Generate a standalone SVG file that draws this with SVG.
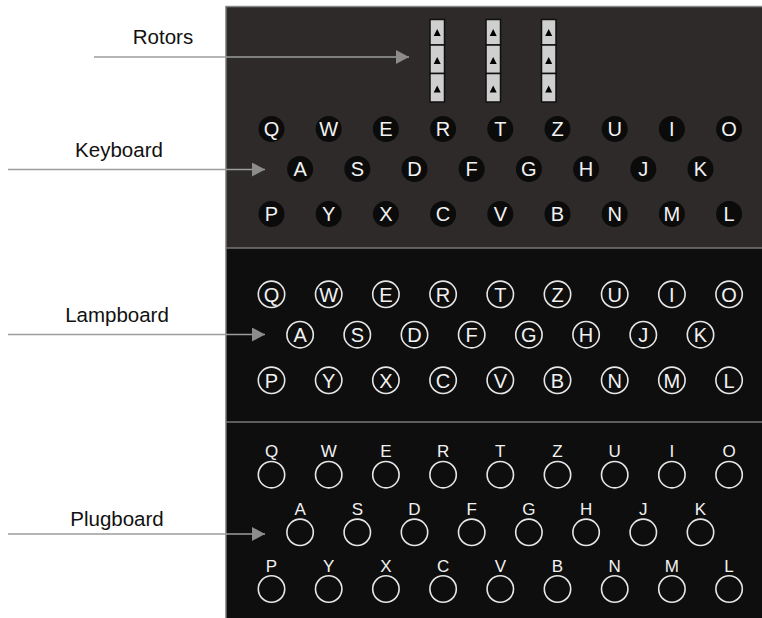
<svg xmlns="http://www.w3.org/2000/svg" width="762" height="618" viewBox="0 0 762 618">
<style>
.lbl{font-family:"Liberation Sans",Arial,sans-serif;font-size:20.5px;fill:#111;text-anchor:middle}
.kc{fill:#0b0b0b}
.lc{fill:none;stroke:#e6e6e6;stroke-width:1.6}
.kt{font-family:"Liberation Sans",Arial,sans-serif;font-size:20px;fill:#f2f2f2;text-anchor:middle}
.pt{font-family:"Liberation Sans",Arial,sans-serif;font-size:17px;fill:#f2f2f2;text-anchor:middle}
.cell{fill:#cfcfcf;stroke:#111;stroke-width:1.5}
.tri{fill:#000}
.conn{stroke:#9c9c9c;stroke-width:1.6;fill:none}
</style>
<defs>
<marker id="ah" markerUnits="userSpaceOnUse" markerWidth="13" markerHeight="14" refX="13" refY="7" orient="auto">
<path d="M0,0 L13,7 L0,14 z" fill="#8c8c8c"/>
</marker>
</defs>
<rect width="762" height="618" fill="#fff"/>
<g id="panel">
<rect x="226" y="6" width="536" height="242" fill="#2d2a29"/>
<rect x="226" y="248" width="536" height="174" fill="#0e0e0e"/>
<rect x="226" y="422" width="536" height="196" fill="#0e0e0e"/>
<line x1="226" y1="6.5" x2="762" y2="6.5" stroke="#8a8a8a" stroke-width="1.5"/>
<line x1="226" y1="6" x2="226" y2="618" stroke="#777" stroke-width="1.5"/>
<line x1="226" y1="248" x2="762" y2="248" stroke="#777" stroke-width="1.5"/>
<line x1="226" y1="422" x2="762" y2="422" stroke="#777" stroke-width="1.5"/>
</g>
<g id="labels">
<text class="lbl" x="163" y="44">Rotors</text>
<text class="lbl" x="119" y="156.5">Keyboard</text>
<text class="lbl" x="117" y="321.5">Lampboard</text>
<text class="lbl" x="117" y="526">Plugboard</text>
</g>
<g id="rotors">
<g id="rotor1">
<rect class="cell" x="430" y="19.5" width="14.5" height="25.5"/><rect class="cell" x="430" y="45" width="14.5" height="28.5"/><rect class="cell" x="430" y="73.5" width="14.5" height="28.5"/>
<polygon class="tri" points="433.7,36 440.7,36 437.2,29"/><polygon class="tri" points="433.7,64 440.7,64 437.2,57"/><polygon class="tri" points="433.7,92.5 440.7,92.5 437.2,85.5"/>
</g>
<g id="rotor2">
<rect class="cell" x="486" y="19.5" width="14.5" height="25.5"/><rect class="cell" x="486" y="45" width="14.5" height="28.5"/><rect class="cell" x="486" y="73.5" width="14.5" height="28.5"/>
<polygon class="tri" points="489.7,36 496.7,36 493.2,29"/><polygon class="tri" points="489.7,64 496.7,64 493.2,57"/><polygon class="tri" points="489.7,92.5 496.7,92.5 493.2,85.5"/>
</g>
<g id="rotor3">
<rect class="cell" x="541.5" y="19.5" width="14.5" height="25.5"/><rect class="cell" x="541.5" y="45" width="14.5" height="28.5"/><rect class="cell" x="541.5" y="73.5" width="14.5" height="28.5"/>
<polygon class="tri" points="545.2,36 552.2,36 548.7,29"/><polygon class="tri" points="545.2,64 552.2,64 548.7,57"/><polygon class="tri" points="545.2,92.5 552.2,92.5 548.7,85.5"/>
</g>
</g>
<g id="keyboard">
<g id="k-Q"><circle class="kc" cx="271.5" cy="129" r="13"/><text class="kt" x="271.5" y="136.2">Q</text></g>
<g id="k-W"><circle class="kc" cx="328.7" cy="129" r="13"/><text class="kt" x="328.7" y="136.2">W</text></g>
<g id="k-E"><circle class="kc" cx="385.9" cy="129" r="13"/><text class="kt" x="385.9" y="136.2">E</text></g>
<g id="k-R"><circle class="kc" cx="443.1" cy="129" r="13"/><text class="kt" x="443.1" y="136.2">R</text></g>
<g id="k-T"><circle class="kc" cx="500.3" cy="129" r="13"/><text class="kt" x="500.3" y="136.2">T</text></g>
<g id="k-Z"><circle class="kc" cx="557.5" cy="129" r="13"/><text class="kt" x="557.5" y="136.2">Z</text></g>
<g id="k-U"><circle class="kc" cx="614.7" cy="129" r="13"/><text class="kt" x="614.7" y="136.2">U</text></g>
<g id="k-I"><circle class="kc" cx="671.9" cy="129" r="13"/><text class="kt" x="671.9" y="136.2">I</text></g>
<g id="k-O"><circle class="kc" cx="729.1" cy="129" r="13"/><text class="kt" x="729.1" y="136.2">O</text></g>
<g id="k-A"><circle class="kc" cx="300.1" cy="169" r="13"/><text class="kt" x="300.1" y="176.2">A</text></g>
<g id="k-S"><circle class="kc" cx="357.3" cy="169" r="13"/><text class="kt" x="357.3" y="176.2">S</text></g>
<g id="k-D"><circle class="kc" cx="414.5" cy="169" r="13"/><text class="kt" x="414.5" y="176.2">D</text></g>
<g id="k-F"><circle class="kc" cx="471.7" cy="169" r="13"/><text class="kt" x="471.7" y="176.2">F</text></g>
<g id="k-G"><circle class="kc" cx="528.9" cy="169" r="13"/><text class="kt" x="528.9" y="176.2">G</text></g>
<g id="k-H"><circle class="kc" cx="586.1" cy="169" r="13"/><text class="kt" x="586.1" y="176.2">H</text></g>
<g id="k-J"><circle class="kc" cx="643.3" cy="169" r="13"/><text class="kt" x="643.3" y="176.2">J</text></g>
<g id="k-K"><circle class="kc" cx="700.5" cy="169" r="13"/><text class="kt" x="700.5" y="176.2">K</text></g>
<g id="k-P"><circle class="kc" cx="271.5" cy="214" r="13"/><text class="kt" x="271.5" y="221.2">P</text></g>
<g id="k-Y"><circle class="kc" cx="328.7" cy="214" r="13"/><text class="kt" x="328.7" y="221.2">Y</text></g>
<g id="k-X"><circle class="kc" cx="385.9" cy="214" r="13"/><text class="kt" x="385.9" y="221.2">X</text></g>
<g id="k-C"><circle class="kc" cx="443.1" cy="214" r="13"/><text class="kt" x="443.1" y="221.2">C</text></g>
<g id="k-V"><circle class="kc" cx="500.3" cy="214" r="13"/><text class="kt" x="500.3" y="221.2">V</text></g>
<g id="k-B"><circle class="kc" cx="557.5" cy="214" r="13"/><text class="kt" x="557.5" y="221.2">B</text></g>
<g id="k-N"><circle class="kc" cx="614.7" cy="214" r="13"/><text class="kt" x="614.7" y="221.2">N</text></g>
<g id="k-M"><circle class="kc" cx="671.9" cy="214" r="13"/><text class="kt" x="671.9" y="221.2">M</text></g>
<g id="k-L"><circle class="kc" cx="729.1" cy="214" r="13"/><text class="kt" x="729.1" y="221.2">L</text></g>
</g>
<g id="lampboard">
<g id="l-Q"><circle class="lc" cx="271.5" cy="294.3" r="13.2"/><text class="kt" x="271.5" y="301.5">Q</text></g>
<g id="l-W"><circle class="lc" cx="328.7" cy="294.3" r="13.2"/><text class="kt" x="328.7" y="301.5">W</text></g>
<g id="l-E"><circle class="lc" cx="385.9" cy="294.3" r="13.2"/><text class="kt" x="385.9" y="301.5">E</text></g>
<g id="l-R"><circle class="lc" cx="443.1" cy="294.3" r="13.2"/><text class="kt" x="443.1" y="301.5">R</text></g>
<g id="l-T"><circle class="lc" cx="500.3" cy="294.3" r="13.2"/><text class="kt" x="500.3" y="301.5">T</text></g>
<g id="l-Z"><circle class="lc" cx="557.5" cy="294.3" r="13.2"/><text class="kt" x="557.5" y="301.5">Z</text></g>
<g id="l-U"><circle class="lc" cx="614.7" cy="294.3" r="13.2"/><text class="kt" x="614.7" y="301.5">U</text></g>
<g id="l-I"><circle class="lc" cx="671.9" cy="294.3" r="13.2"/><text class="kt" x="671.9" y="301.5">I</text></g>
<g id="l-O"><circle class="lc" cx="729.1" cy="294.3" r="13.2"/><text class="kt" x="729.1" y="301.5">O</text></g>
<g id="l-A"><circle class="lc" cx="300.1" cy="334.7" r="13.2"/><text class="kt" x="300.1" y="341.9">A</text></g>
<g id="l-S"><circle class="lc" cx="357.3" cy="334.7" r="13.2"/><text class="kt" x="357.3" y="341.9">S</text></g>
<g id="l-D"><circle class="lc" cx="414.5" cy="334.7" r="13.2"/><text class="kt" x="414.5" y="341.9">D</text></g>
<g id="l-F"><circle class="lc" cx="471.7" cy="334.7" r="13.2"/><text class="kt" x="471.7" y="341.9">F</text></g>
<g id="l-G"><circle class="lc" cx="528.9" cy="334.7" r="13.2"/><text class="kt" x="528.9" y="341.9">G</text></g>
<g id="l-H"><circle class="lc" cx="586.1" cy="334.7" r="13.2"/><text class="kt" x="586.1" y="341.9">H</text></g>
<g id="l-J"><circle class="lc" cx="643.3" cy="334.7" r="13.2"/><text class="kt" x="643.3" y="341.9">J</text></g>
<g id="l-K"><circle class="lc" cx="700.5" cy="334.7" r="13.2"/><text class="kt" x="700.5" y="341.9">K</text></g>
<g id="l-P"><circle class="lc" cx="271.5" cy="380.3" r="13.2"/><text class="kt" x="271.5" y="387.5">P</text></g>
<g id="l-Y"><circle class="lc" cx="328.7" cy="380.3" r="13.2"/><text class="kt" x="328.7" y="387.5">Y</text></g>
<g id="l-X"><circle class="lc" cx="385.9" cy="380.3" r="13.2"/><text class="kt" x="385.9" y="387.5">X</text></g>
<g id="l-C"><circle class="lc" cx="443.1" cy="380.3" r="13.2"/><text class="kt" x="443.1" y="387.5">C</text></g>
<g id="l-V"><circle class="lc" cx="500.3" cy="380.3" r="13.2"/><text class="kt" x="500.3" y="387.5">V</text></g>
<g id="l-B"><circle class="lc" cx="557.5" cy="380.3" r="13.2"/><text class="kt" x="557.5" y="387.5">B</text></g>
<g id="l-N"><circle class="lc" cx="614.7" cy="380.3" r="13.2"/><text class="kt" x="614.7" y="387.5">N</text></g>
<g id="l-M"><circle class="lc" cx="671.9" cy="380.3" r="13.2"/><text class="kt" x="671.9" y="387.5">M</text></g>
<g id="l-L"><circle class="lc" cx="729.1" cy="380.3" r="13.2"/><text class="kt" x="729.1" y="387.5">L</text></g>
</g>
<g id="plugboard">
<g id="p-Q"><circle class="lc" cx="271.5" cy="474.7" r="13.2"/><text class="pt" x="271.5" y="457.3">Q</text></g>
<g id="p-W"><circle class="lc" cx="328.7" cy="474.7" r="13.2"/><text class="pt" x="328.7" y="457.3">W</text></g>
<g id="p-E"><circle class="lc" cx="385.9" cy="474.7" r="13.2"/><text class="pt" x="385.9" y="457.3">E</text></g>
<g id="p-R"><circle class="lc" cx="443.1" cy="474.7" r="13.2"/><text class="pt" x="443.1" y="457.3">R</text></g>
<g id="p-T"><circle class="lc" cx="500.3" cy="474.7" r="13.2"/><text class="pt" x="500.3" y="457.3">T</text></g>
<g id="p-Z"><circle class="lc" cx="557.5" cy="474.7" r="13.2"/><text class="pt" x="557.5" y="457.3">Z</text></g>
<g id="p-U"><circle class="lc" cx="614.7" cy="474.7" r="13.2"/><text class="pt" x="614.7" y="457.3">U</text></g>
<g id="p-I"><circle class="lc" cx="671.9" cy="474.7" r="13.2"/><text class="pt" x="671.9" y="457.3">I</text></g>
<g id="p-O"><circle class="lc" cx="729.1" cy="474.7" r="13.2"/><text class="pt" x="729.1" y="457.3">O</text></g>
<g id="p-A"><circle class="lc" cx="300.1" cy="532.3" r="13.2"/><text class="pt" x="300.1" y="514.9">A</text></g>
<g id="p-S"><circle class="lc" cx="357.3" cy="532.3" r="13.2"/><text class="pt" x="357.3" y="514.9">S</text></g>
<g id="p-D"><circle class="lc" cx="414.5" cy="532.3" r="13.2"/><text class="pt" x="414.5" y="514.9">D</text></g>
<g id="p-F"><circle class="lc" cx="471.7" cy="532.3" r="13.2"/><text class="pt" x="471.7" y="514.9">F</text></g>
<g id="p-G"><circle class="lc" cx="528.9" cy="532.3" r="13.2"/><text class="pt" x="528.9" y="514.9">G</text></g>
<g id="p-H"><circle class="lc" cx="586.1" cy="532.3" r="13.2"/><text class="pt" x="586.1" y="514.9">H</text></g>
<g id="p-J"><circle class="lc" cx="643.3" cy="532.3" r="13.2"/><text class="pt" x="643.3" y="514.9">J</text></g>
<g id="p-K"><circle class="lc" cx="700.5" cy="532.3" r="13.2"/><text class="pt" x="700.5" y="514.9">K</text></g>
<g id="p-P"><circle class="lc" cx="271.5" cy="589" r="13.2"/><text class="pt" x="271.5" y="571.6">P</text></g>
<g id="p-Y"><circle class="lc" cx="328.7" cy="589" r="13.2"/><text class="pt" x="328.7" y="571.6">Y</text></g>
<g id="p-X"><circle class="lc" cx="385.9" cy="589" r="13.2"/><text class="pt" x="385.9" y="571.6">X</text></g>
<g id="p-C"><circle class="lc" cx="443.1" cy="589" r="13.2"/><text class="pt" x="443.1" y="571.6">C</text></g>
<g id="p-V"><circle class="lc" cx="500.3" cy="589" r="13.2"/><text class="pt" x="500.3" y="571.6">V</text></g>
<g id="p-B"><circle class="lc" cx="557.5" cy="589" r="13.2"/><text class="pt" x="557.5" y="571.6">B</text></g>
<g id="p-N"><circle class="lc" cx="614.7" cy="589" r="13.2"/><text class="pt" x="614.7" y="571.6">N</text></g>
<g id="p-M"><circle class="lc" cx="671.9" cy="589" r="13.2"/><text class="pt" x="671.9" y="571.6">M</text></g>
<g id="p-L"><circle class="lc" cx="729.1" cy="589" r="13.2"/><text class="pt" x="729.1" y="571.6">L</text></g>
</g>
<g id="connectors">
<line class="conn" x1="94" y1="57" x2="409" y2="57" marker-end="url(#ah)"/>
<line class="conn" x1="8" y1="169.5" x2="265" y2="169.5" marker-end="url(#ah)"/>
<line class="conn" x1="8" y1="334.5" x2="265" y2="334.5" marker-end="url(#ah)"/>
<line class="conn" x1="8" y1="534" x2="265" y2="534" marker-end="url(#ah)"/>
</g>
</svg>
